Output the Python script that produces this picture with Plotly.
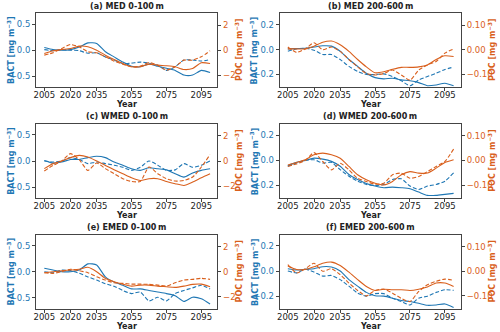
import plotly.graph_objects as go

years = [2005, 2010, 2015, 2020, 2025, 2030, 2035, 2040, 2045, 2050,
         2055, 2060, 2065, 2070, 2075, 2080, 2085, 2090, 2095, 2100]
year_ticks = [2005, 2020, 2035, 2055, 2075, 2095]

titles = ["(a) MED 0-100\u2009m", "(b) MED 200-600\u2009m",
          "(c) WMED 0-100\u2009m", "(d) WMED 200-600\u2009m",
          "(e) EMED 0-100\u2009m", "(f) EMED 200-600\u2009m"]

# (a) MED 0-100 m
a_bact_solid = [0.05, 0.01, 0.0, 0.01, 0.06, 0.14, 0.13, -0.03, -0.13, -0.23,
                -0.31, -0.32, -0.27, -0.31, -0.35, -0.39, -0.48, -0.48, -0.39, -0.43]
a_bact_dash = [0.01, -0.01, 0.01, 0.0, -0.01, -0.06, -0.05, -0.13, -0.19, -0.26,
               -0.25, -0.23, -0.25, -0.29, -0.39, -0.32, -0.19, -0.19, -0.21, -0.18]
a_poc_solid = [-0.27, -0.05, 0.05, 0.13, 0.32, 0.27, 0.0, -0.4, -0.75, -1.07,
               -1.33, -1.33, -1.12, -1.2, -1.25, -1.33, -1.55, -1.47, -1.01, -1.07]
a_poc_dash = [-0.4, -0.21, 0.13, 0.45, 0.27, -0.13, -0.21, -0.53, -0.88, -1.12,
              -1.33, -1.28, -0.99, -1.2, -1.6, -1.33, -0.8, -0.8, -0.53, -0.05]

# (b) MED 200-600 m
b_bact_solid = [0.005, 0.008, 0.01, 0.02, 0.03, 0.027, -0.014, -0.08, -0.135, -0.19,
                -0.225, -0.235, -0.23, -0.243, -0.25, -0.265, -0.29, -0.284, -0.27, -0.29]
b_bact_dash = [-0.014, 0.005, 0.01, -0.005, -0.04, -0.04, -0.08, -0.135, -0.175, -0.2,
               -0.2, -0.195, -0.216, -0.25, -0.29, -0.243, -0.216, -0.19, -0.16, -0.14]
b_poc_solid = [0.003, 0.003, 0.003, 0.014, 0.03, 0.035, 0.02, -0.007, -0.04, -0.07,
               -0.094, -0.09, -0.08, -0.072, -0.072, -0.07, -0.062, -0.04, -0.025, -0.028]
b_poc_dash = [0.011, -0.011, 0.003, 0.028, 0.0, 0.011, -0.007, -0.04, -0.07, -0.097,
              -0.103, -0.097, -0.083, -0.103, -0.124, -0.083, -0.062, -0.048, -0.014, 0.003]

# (c) WMED 0-100 m
c_bact_solid = [0.01, -0.04, -0.02, 0.03, 0.03, 0.065, 0.09, 0.065, -0.02, -0.08,
                -0.15, -0.18, -0.13, -0.15, -0.17, -0.245, -0.31, -0.23, -0.18, -0.15]
c_bact_dash = [0.0, -0.02, 0.0, 0.065, 0.03, -0.05, -0.02, -0.05, -0.08, -0.12,
               -0.18, -0.12, 0.0, -0.08, -0.18, -0.17, -0.05, -0.12, -0.08, 0.0]
c_poc_solid = [-0.61, -0.21, 0.0, 0.27, 0.45, 0.32, 0.0, -0.35, -0.69, -1.01,
               -1.33, -1.55, -1.41, -1.41, -1.63, -1.81, -1.95, -1.68, -1.33, -1.01]
c_poc_dash = [-0.8, -0.35, 0.0, 0.59, 0.11, -0.75, -0.16, -0.61, -1.01, -1.41,
              -1.63, -1.63, -0.48, -1.01, -1.41, -1.6, -1.55, -1.28, -0.48, 0.51]

# (d) WMED 200-600 m
d_bact_solid = [-0.042, -0.016, 0.0, 0.018, 0.01, -0.008, -0.047, -0.113, -0.153, -0.184,
                -0.205, -0.218, -0.213, -0.218, -0.226, -0.253, -0.279, -0.279, -0.271, -0.263]
d_bact_dash = [-0.047, -0.021, 0.0, 0.005, -0.021, -0.016, -0.074, -0.126, -0.166, -0.192,
               -0.2, -0.192, -0.153, -0.147, -0.205, -0.232, -0.205, -0.192, -0.166, -0.1]
d_poc_solid = [-0.018, -0.008, 0.003, 0.023, 0.03, 0.023, 0.009, -0.024, -0.058, -0.078,
               -0.092, -0.099, -0.085, -0.058, -0.045, -0.051, -0.051, -0.031, -0.008, 0.003]
d_poc_dash = [-0.024, -0.014, 0.0, 0.032, -0.004, -0.038, -0.011, -0.038, -0.072, -0.085,
              -0.096, -0.092, -0.058, -0.051, -0.072, -0.065, -0.045, -0.024, -0.004, 0.046]

# (e) EMED 0-100 m
e_bact_solid = [0.065, 0.033, 0.0, 0.0, 0.033, 0.15, 0.13, -0.1, -0.2, -0.26,
                -0.33, -0.33, -0.36, -0.39, -0.42, -0.46, -0.57, -0.49, -0.52, -0.62]
e_bact_dash = [0.0, -0.02, 0.03, 0.02, -0.03, -0.1, -0.16, -0.23, -0.28, -0.36,
               -0.42, -0.39, -0.56, -0.49, -0.56, -0.42, -0.36, -0.31, -0.26, -0.33]
e_poc_solid = [-0.08, 0.0, 0.08, 0.13, 0.19, 0.35, 0.0, -0.53, -0.8, -0.99,
               -1.15, -1.07, -1.07, -1.15, -1.2, -1.25, -1.15, -1.01, -0.99, -1.2]
e_poc_dash = [-0.08, -0.13, 0.0, 0.19, 0.08, -0.08, -0.4, -0.67, -0.88, -0.93,
              -0.99, -0.99, -1.01, -1.07, -1.15, -0.88, -0.67, -0.61, -0.53, -0.61]

# (f) EMED 200-600 m
f_bact_solid = [0.019, 0.008, 0.014, 0.019, 0.035, 0.032, 0.0, -0.068, -0.12, -0.17,
                -0.197, -0.2, -0.216, -0.235, -0.243, -0.257, -0.273, -0.27, -0.262, -0.29]
f_bact_dash = [0.0, -0.014, 0.014, -0.008, -0.04, -0.035, -0.068, -0.12, -0.176, -0.2,
               -0.18, -0.18, -0.216, -0.243, -0.27, -0.216, -0.2, -0.17, -0.149, -0.154]
f_poc_solid = [0.021, 0.007, 0.007, 0.018, 0.032, 0.037, 0.023, -0.004, -0.034, -0.062,
               -0.078, -0.073, -0.075, -0.075, -0.078, -0.073, -0.064, -0.048, -0.048, -0.062]
f_poc_dash = [0.027, -0.007, 0.01, 0.032, 0.0, 0.01, -0.014, -0.048, -0.078, -0.1,
              -0.078, -0.073, -0.089, -0.11, -0.123, -0.082, -0.055, -0.041, -0.032, -0.037]

panels = [
    (a_bact_solid, a_bact_dash, a_poc_solid, a_poc_dash),
    (b_bact_solid, b_bact_dash, b_poc_solid, b_poc_dash),
    (c_bact_solid, c_bact_dash, c_poc_solid, c_poc_dash),
    (d_bact_solid, d_bact_dash, d_poc_solid, d_poc_dash),
    (e_bact_solid, e_bact_dash, e_poc_solid, e_poc_dash),
    (f_bact_solid, f_bact_dash, f_poc_solid, f_poc_dash),
]

BLUE = "#1f77b4"
ORANGE = "#d95f1c"
SPINE = "#444444"
TXT = "#222222"
FONT = "DejaVu Sans"

W, H = 500, 332
col_x = [(33.3, 215.7), (278.3, 460.7)]
row_y = [(13.3, 87.0), (124.0, 198.0), (234.7, 308.7)]

fig = go.Figure()
layout = {}
annotations = []


def note(text, x, y, size=8, color=TXT, angle=0):
    annotations.append(dict(text=text, x=x / W, y=1 - y / H, xref="paper", yref="paper",
                            xanchor="center", yanchor="middle", showarrow=False,
                            textangle=angle, font=dict(size=size, color=color)))


for i, (bs, bd, ps, pd_) in enumerate(panels):
    n = i + 1
    m = i + 7
    r, c = divmod(i, 2)
    deep = c == 1
    xa = "x" if n == 1 else f"x{n}"
    ya = "y" if n == 1 else f"y{n}"
    yb = f"y{m}"

    ln = dict(width=1.1, shape="spline", smoothing=0.6)
    fig.add_trace(go.Scatter(x=years, y=bs, xaxis=xa, yaxis=ya, mode="lines",
                             line=dict(color=BLUE, **ln)))
    fig.add_trace(go.Scatter(x=years, y=bd, xaxis=xa, yaxis=ya, mode="lines",
                             line=dict(color=BLUE, dash="4px,2px", **ln)))
    fig.add_trace(go.Scatter(x=years, y=ps, xaxis=xa, yaxis=yb, mode="lines",
                             line=dict(color=ORANGE, **ln)))
    fig.add_trace(go.Scatter(x=years, y=pd_, xaxis=xa, yaxis=yb, mode="lines",
                             line=dict(color=ORANGE, dash="4px,2px", **ln)))

    x0, x1 = col_x[c]
    y0, y1 = row_y[r]
    xdom = [x0 / W, x1 / W]
    ydom = [1 - y1 / H, 1 - y0 / H]

    common = dict(showline=True, linecolor=SPINE, linewidth=1, ticks="outside",
                  ticklen=3, tickwidth=1, tickcolor=SPINE, showgrid=False,
                  zeroline=False)

    layout["xaxis" if n == 1 else f"xaxis{n}"] = dict(
        domain=xdom, anchor=ya, range=[2000.3, 2104.2], mirror=True,
        tickvals=year_ticks, tickfont=dict(size=8.5, color=TXT),
        ticklabelstandoff=-3, **common)

    if deep:
        bact_rng, bact_tv, bact_fmt = [-0.3, 0.29], [-0.2, 0.0, 0.2], ".1f"
        poc_rng, poc_tv, poc_fmt = [-0.152, 0.148], [-0.1, 0.0, 0.1], ".2f"
    else:
        bact_rng, bact_tv, bact_fmt = [-0.71, 0.71], [-0.5, 0.0, 0.5], ".1f"
        poc_rng, poc_tv, poc_fmt = [-2.95, 2.95], [-2, 0, 2], "d"

    layout["yaxis" if n == 1 else f"yaxis{n}"] = dict(
        domain=ydom, anchor=xa, range=bact_rng, tickvals=bact_tv, tickformat=bact_fmt,
        tickfont=dict(size=8.5, color=BLUE), **common)
    layout[f"yaxis{m}"] = dict(
        overlaying=ya, anchor=xa, side="right", range=poc_rng, tickvals=poc_tv,
        tickformat=poc_fmt, tickfont=dict(size=8.5, color=ORANGE), **common)

    # panel title, axis titles
    xc = (x0 + x1) / 2
    yc = (y0 + y1) / 2
    note(f"<b>{titles[i]}</b>", xc, y0 - 7)
    note("<b>Year</b>", xc, y1 + 17.5)
    note("<b>BACT [mg m<sup>\u22123</sup>]</b>", x0 - 25.5, yc, color=BLUE, angle=-90)
    poc_off = 31 if deep else 21.5
    note("<b>POC [mg m<sup>\u22123</sup>]</b>", x1 + poc_off, yc, color=ORANGE, angle=-90)

fig.update_layout(
    width=W, height=H, margin=dict(l=0, r=0, t=0, b=0),
    paper_bgcolor="white", plot_bgcolor="white", showlegend=False,
    font=dict(family=FONT, color=TXT), annotations=annotations, **layout)

fig.write_html("out.html", config={"displayModeBar": False},
               post_script="document.body.style.margin='0';")
